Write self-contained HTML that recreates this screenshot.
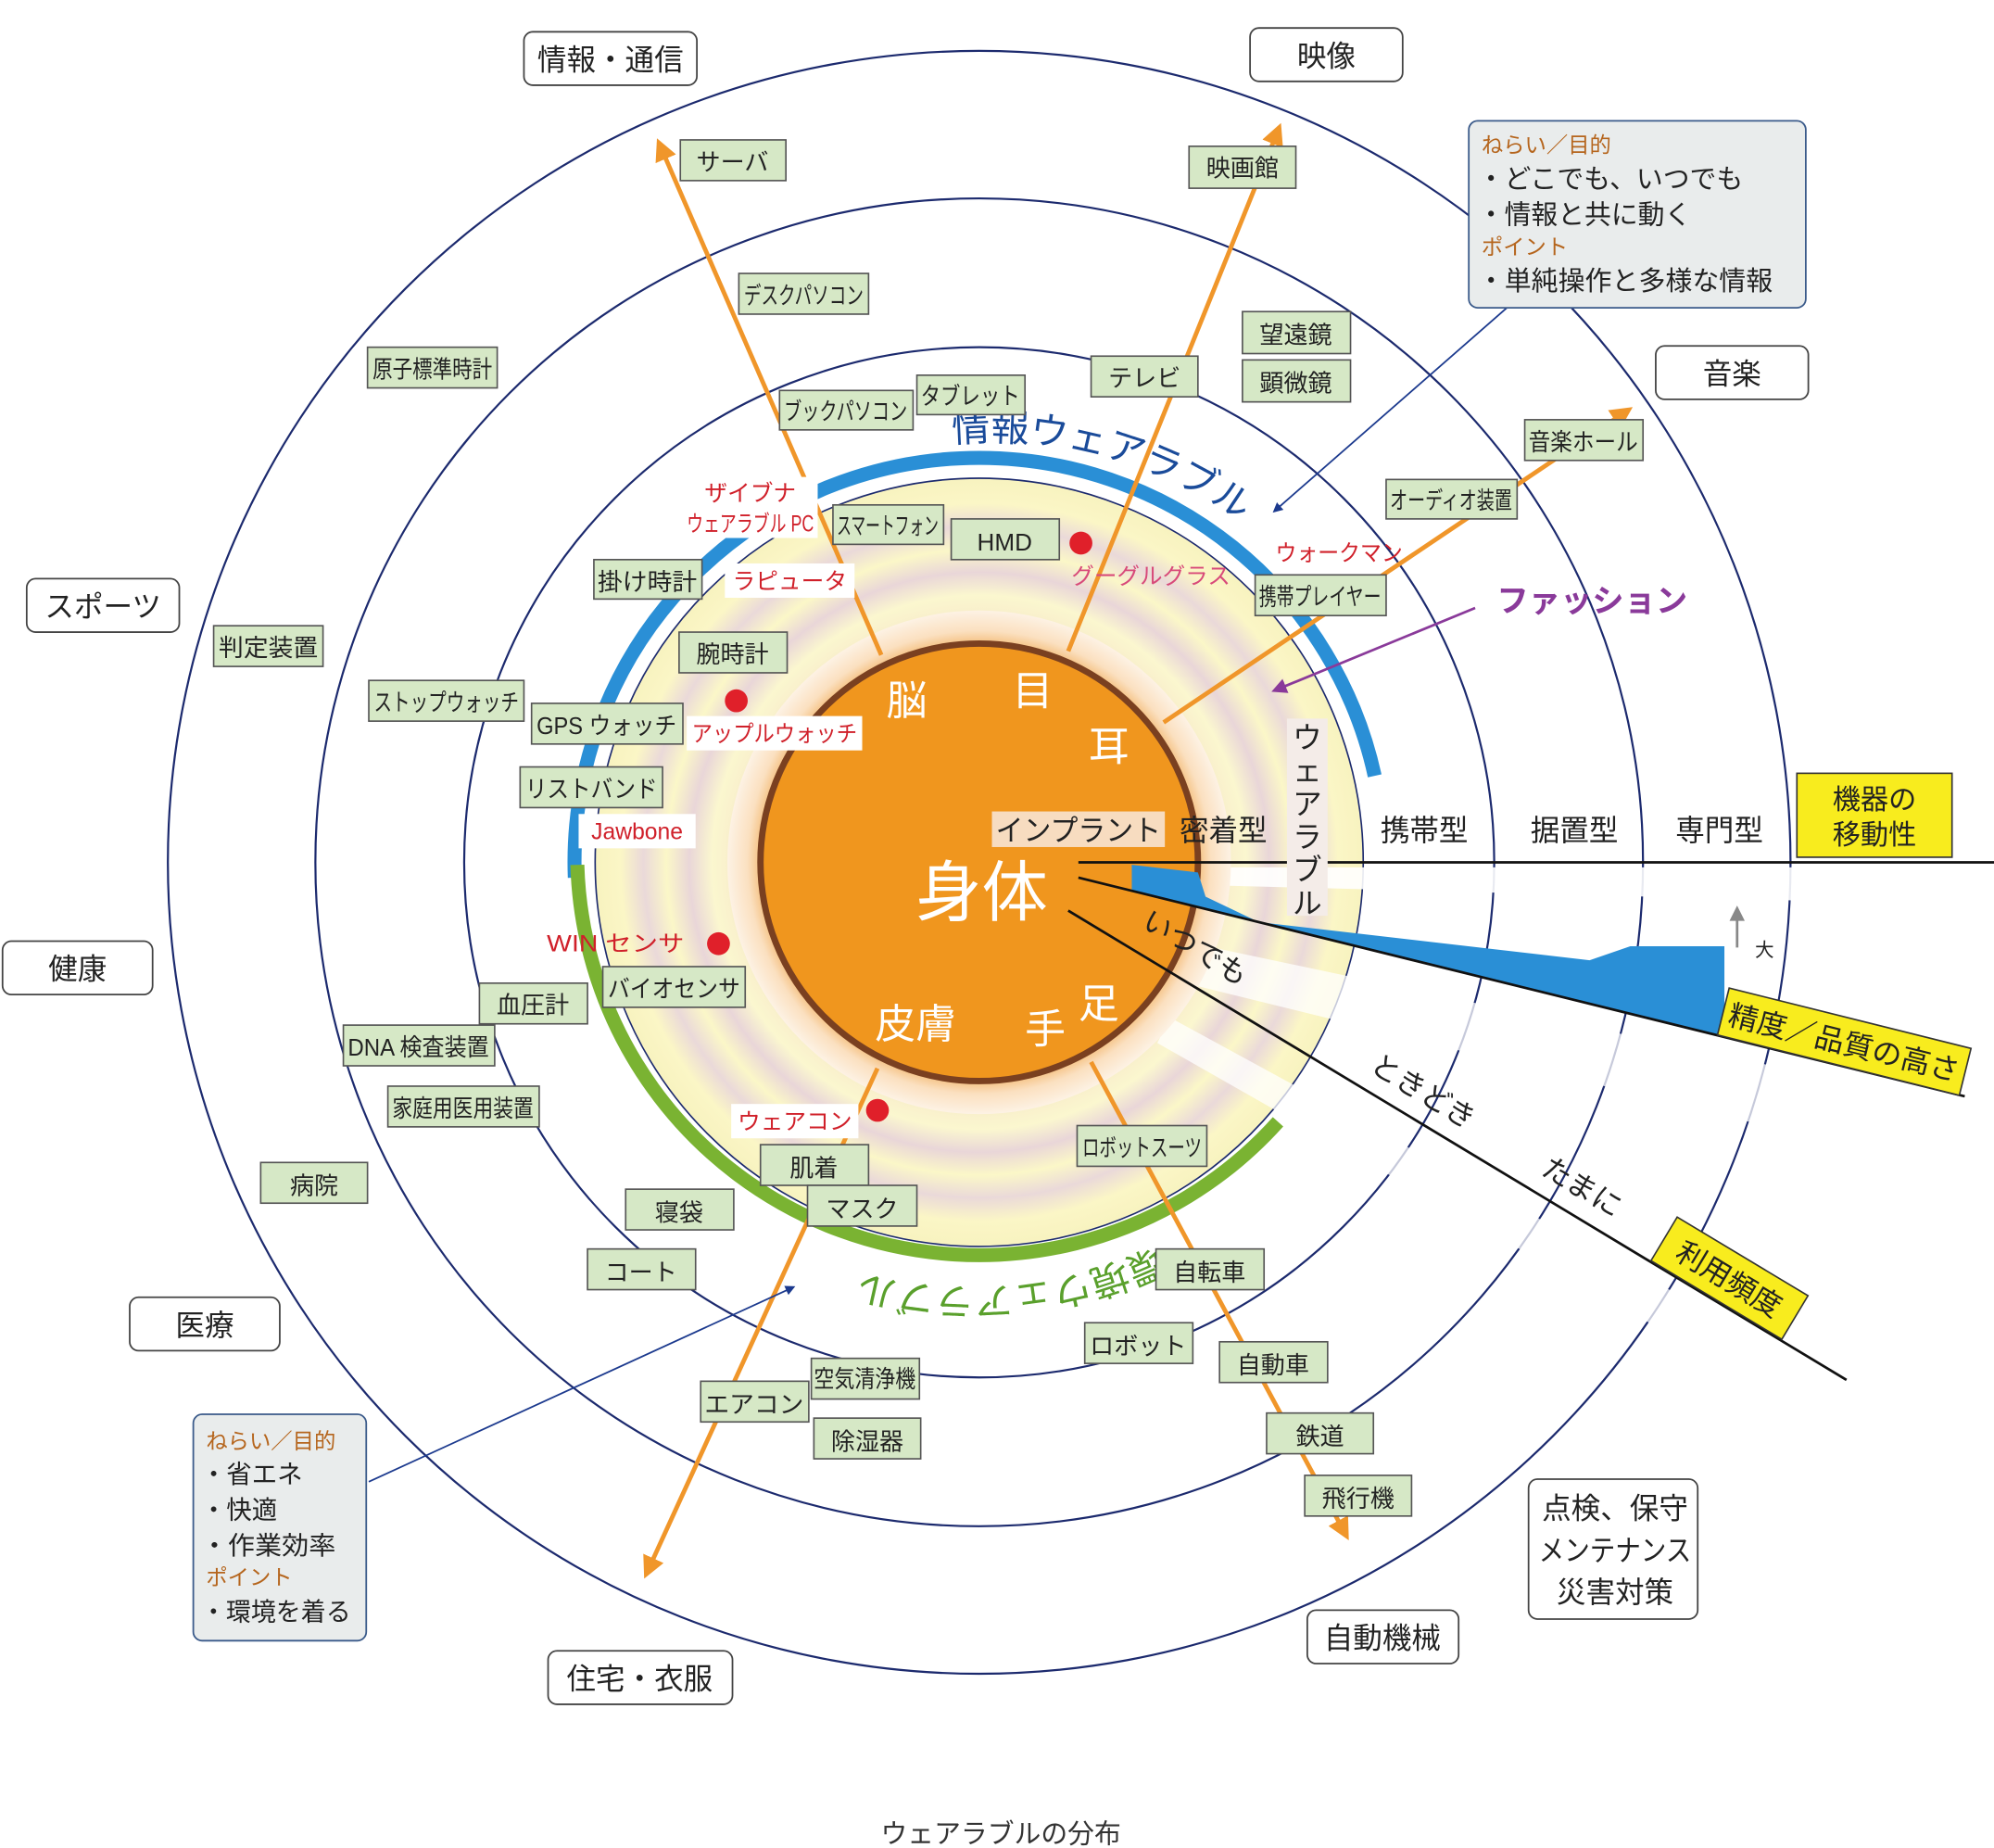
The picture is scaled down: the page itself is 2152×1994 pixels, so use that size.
<!DOCTYPE html>
<html><head><meta charset="utf-8">
<style>
html,body{margin:0;padding:0;background:#fff;}
svg{display:block;}
text{font-family:"Liberation Sans","Noto Sans CJK JP",sans-serif;}
.g{fill:#d6e8c6;stroke:#555;stroke-width:1.2;}
.gt{font-size:19px;fill:#222;text-anchor:middle;}
.w{fill:#fff;stroke:#444;stroke-width:1.3;}
.wt{font-size:23px;fill:#222;text-anchor:middle;}
.r{font-size:18px;fill:#d0202a;text-anchor:middle;}
.ring{fill:none;stroke:#1c2a6e;stroke-width:1.6;}
.oa{stroke:#f0962a;stroke-width:3.5;fill:none;}
</style></head><body>
<svg width="2152" height="1994" viewBox="0 0 1568 1453" preserveAspectRatio="none" xmlns="http://www.w3.org/2000/svg">
<defs>
<radialGradient id="yel" cx="770" cy="678" r="300" gradientUnits="userSpaceOnUse">
<stop offset="0.6" stop-color="#f6e6c8"/>
<stop offset="0.7" stop-color="#fbf7cf"/>
<stop offset="0.76" stop-color="#e9d6d8"/>
<stop offset="0.82" stop-color="#fbf7c8"/>
<stop offset="0.88" stop-color="#ead9d9"/>
<stop offset="0.94" stop-color="#fbf6c6"/>
<stop offset="1" stop-color="#f8f3c0"/>
</radialGradient>
<radialGradient id="glow" cx="770" cy="678" r="198" gradientUnits="userSpaceOnUse">
<stop offset="0.85" stop-color="#f2b56a"/>
<stop offset="0.92" stop-color="#fbe0c0"/>
<stop offset="1" stop-color="#fdf2e4"/>
</radialGradient>
<marker id="ah" viewBox="0 0 10 10" refX="8" refY="5" markerWidth="5" markerHeight="5" orient="auto"><path d="M0,0L10,5L0,10z" fill="#f0962a"/></marker>
<marker id="an" viewBox="0 0 10 10" refX="8" refY="5" markerWidth="6" markerHeight="6" orient="auto"><path d="M0,0L10,5L0,10z" fill="#1c3a8e"/></marker>
<marker id="ap" viewBox="0 0 10 10" refX="8" refY="5" markerWidth="6" markerHeight="6" orient="auto"><path d="M0,0L10,5L0,10z" fill="#8a3a9a"/></marker>
<path id="topArc" d="M 560,430 A 332 332 0 0 1 1030,460"/>
<path id="botArc" d="M 920,975 A 338 338 0 0 1 610,975"/>
</defs>

<circle cx="770" cy="678" r="638" class="ring"/>
<circle cx="770" cy="678" r="522" class="ring"/>
<circle cx="770" cy="678" r="405" class="ring"/>
<circle cx="770" cy="678" r="302" fill="url(#yel)" stroke="#1c2a6e" stroke-width="1.2"/>

<polygon points="950,682 1568,682 1568,712 950,696" fill="#fff" opacity="0.9"/>
<polygon points="930,740 1545,870 1530,920 920,770" fill="#fff" opacity="0.75"/>
<polygon points="920,800 1452,1090 1420,1110 910,820" fill="#fff" opacity="0.75"/>

<path d="M 452,690 A 318 318 0 0 1 770,360 A 318 318 0 0 1 1081,610" fill="none" stroke="#2a8fd6" stroke-width="11"/>
<path d="M 454,680 A 316 316 0 0 0 1005,882" fill="none" stroke="#7ab332" stroke-width="11"/>

<circle cx="770" cy="678" r="198" fill="url(#glow)"/>
<circle cx="770" cy="678" r="172" fill="#f0961e" stroke="#7a4020" stroke-width="5"/>

<text font-size="30" fill="#1a4b9a"><textPath href="#topArc" startOffset="40%">情報ウェアラブル</textPath></text>
<text font-size="30" fill="#5aa02c"><textPath href="#botArc" startOffset="3%">環境ウェアラブル</textPath></text>

<line x1="848" y1="678" x2="1568" y2="678" stroke="#111" stroke-width="2"/>
<polygon points="890,680 942,686 948,705 990,725 1250,755 1282,744 1356,744 1356,815 890,700" fill="#2a8fd6"/>
<line x1="848" y1="690" x2="1545" y2="862" stroke="#111" stroke-width="2"/>
<line x1="840" y1="716" x2="1452" y2="1085" stroke="#111" stroke-width="2"/>
<line x1="1366" y1="745" x2="1366" y2="722" stroke="#888" stroke-width="2"/>
<polygon points="1360,724 1366,712 1372,724" fill="#888"/>
<text x="1380" y="752" font-size="15" fill="#222">大</text>

<line x1="693" y1="515" x2="518" y2="112" class="oa" marker-end="url(#ah)"/>
<line x1="840" y1="512" x2="1006" y2="100" class="oa" marker-end="url(#ah)"/>
<line x1="915" y1="568" x2="1281" y2="322" class="oa" marker-end="url(#ah)"/>
<line x1="690" y1="840" x2="508" y2="1238" class="oa" marker-end="url(#ah)"/>
<line x1="858" y1="835" x2="1059" y2="1208" class="oa" marker-end="url(#ah)"/>

<line x1="1185" y1="242" x2="1002" y2="402" stroke="#1c3a8e" stroke-width="1.3" marker-end="url(#an)"/>
<line x1="290" y1="1165" x2="624" y2="1012" stroke="#1c3a8e" stroke-width="1.3" marker-end="url(#an)"/>
<line x1="1160" y1="478" x2="1002" y2="543" stroke="#8a3a9a" stroke-width="2" marker-end="url(#ap)"/>

<rect x="780" y="638" width="136" height="28" fill="#f7dcc0"/>
<text x="848" y="661" font-size="23" text-anchor="middle" fill="#222" textLength="130" lengthAdjust="spacingAndGlyphs">インプラント</text>
<text x="962" y="661" font-size="23" text-anchor="middle" fill="#222">密着型</text>
<rect x="1012" y="565" width="32" height="155" fill="#f4ece8"/>
<text font-size="23" fill="#222" text-anchor="middle"><tspan x="1028" y="588">ウ</tspan><tspan x="1028" y="614">ェ</tspan><tspan x="1028" y="640">ア</tspan><tspan x="1028" y="666">ラ</tspan><tspan x="1028" y="692">ブ</tspan><tspan x="1028" y="718">ル</tspan></text>
<text x="1120" y="661" font-size="23" text-anchor="middle" fill="#222">携帯型</text>
<text x="1238" y="661" font-size="23" text-anchor="middle" fill="#222">据置型</text>
<text x="1352" y="661" font-size="23" text-anchor="middle" fill="#222">専門型</text>

<g fill="#fff" text-anchor="middle">
<text x="713" y="562" font-size="32">脳</text>
<text x="812" y="554" font-size="32">目</text>
<text x="872" y="598" font-size="32">耳</text>
<text x="772" y="720" font-size="52">身体</text>
<text x="720" y="816" font-size="32">皮膚</text>
<text x="822" y="820" font-size="32">手</text>
<text x="864" y="800" font-size="32">足</text>
</g>

<text x="936" y="752" font-size="23" fill="#222" text-anchor="middle" transform="rotate(31 936 752)">いつでも</text>
<text x="1115" y="865" font-size="23" fill="#222" text-anchor="middle" transform="rotate(31 1115 865)">ときどき</text>
<text x="1240" y="940" font-size="23" fill="#222" text-anchor="middle" transform="rotate(31 1240 940)">たまに</text>

<rect x="1413" y="608" width="122" height="66" fill="#f8ec1e" stroke="#333" stroke-width="1.2"/>
<text x="1474" y="636" font-size="22" text-anchor="middle" fill="#222">機器の</text>
<text x="1474" y="664" font-size="22" text-anchor="middle" fill="#222">移動性</text>
<g transform="rotate(14 1450 820)"><rect x="1352" y="800" width="196" height="38" fill="#f8ec1e" stroke="#333" stroke-width="1.2"/><text x="1450" y="828" font-size="23" text-anchor="middle" fill="#222" textLength="186" lengthAdjust="spacingAndGlyphs">精度／品質の高さ</text></g>
<g transform="rotate(31 1360 1005)"><rect x="1300" y="985" width="120" height="40" fill="#f8ec1e" stroke="#333" stroke-width="1.2"/><text x="1360" y="1014" font-size="23" text-anchor="middle" fill="#222">利用頻度</text></g>

<g>
<rect class="g" x="535" y="110" width="83" height="32"/><text class="gt" x="576" y="134">サーバ</text>
<rect class="g" x="581" y="215" width="102" height="32"/><text class="gt" x="632" y="239" textLength="94" lengthAdjust="spacingAndGlyphs">デスクパソコン</text>
<rect class="g" x="289" y="273" width="102" height="32"/><text class="gt" x="340" y="297" textLength="94" lengthAdjust="spacingAndGlyphs">原子標準時計</text>
<rect class="g" x="613" y="307" width="105" height="31"/><text class="gt" x="665" y="330" textLength="97" lengthAdjust="spacingAndGlyphs">ブックパソコン</text>
<rect class="g" x="721" y="295" width="85" height="31"/><text class="gt" x="763" y="318" textLength="78" lengthAdjust="spacingAndGlyphs">タブレット</text>
<rect class="g" x="858" y="280" width="84" height="32"/><text class="gt" x="900" y="304" font-size="22">テレビ</text>
<rect class="g" x="935" y="115" width="84" height="33"/><text class="gt" x="977" y="139">映画館</text>
<rect class="g" x="977" y="245" width="85" height="33"/><text class="gt" x="1019" y="270" font-size="21">望遠鏡</text>
<rect class="g" x="977" y="283" width="85" height="33"/><text class="gt" x="1019" y="308" font-size="21">顕微鏡</text>
<rect class="g" x="1199" y="330" width="93" height="32"/><text class="gt" x="1245" y="354" textLength="86" lengthAdjust="spacingAndGlyphs">音楽ホール</text>
<rect class="g" x="1090" y="377" width="103" height="31"/><text class="gt" x="1141" y="400" textLength="96" lengthAdjust="spacingAndGlyphs">オーディオ装置</text>
<rect class="g" x="987" y="452" width="103" height="32"/><text class="gt" x="1038" y="476" textLength="96" lengthAdjust="spacingAndGlyphs">携帯プレイヤー</text>
<rect class="g" x="655" y="397" width="87" height="31"/><text class="gt" x="698" y="420" font-size="17" textLength="80" lengthAdjust="spacingAndGlyphs">スマートフォン</text>
<rect class="g" x="748" y="408" width="85" height="32"/><text class="gt" x="790" y="433" font-size="22">HMD</text>
<rect class="g" x="467" y="440" width="85" height="31"/><text class="gt" x="509" y="464" font-size="20" textLength="78" lengthAdjust="spacingAndGlyphs">掛け時計</text>
<rect class="g" x="534" y="497" width="85" height="32"/><text class="gt" x="576" y="521" font-size="20">腕時計</text>
<rect class="g" x="168" y="492" width="86" height="32"/><text class="gt" x="211" y="516" textLength="78" lengthAdjust="spacingAndGlyphs">判定装置</text>
<rect class="g" x="290" y="535" width="122" height="32"/><text class="gt" x="351" y="559" textLength="114" lengthAdjust="spacingAndGlyphs">ストップウォッチ</text>
<rect class="g" x="418" y="553" width="119" height="32"/><text class="gt" x="477" y="577" font-size="20" textLength="110" lengthAdjust="spacingAndGlyphs">GPS ウォッチ</text>
<rect class="g" x="409" y="603" width="112" height="32"/><text class="gt" x="465" y="627" font-size="20" textLength="104" lengthAdjust="spacingAndGlyphs">リストバンド</text>
<rect class="g" x="377" y="773" width="85" height="32"/><text class="gt" x="419" y="797" font-size="21">血圧計</text>
<rect class="g" x="474" y="760" width="112" height="32"/><text class="gt" x="530" y="784" font-size="20" textLength="104" lengthAdjust="spacingAndGlyphs">バイオセンサ</text>
<rect class="g" x="270" y="806" width="119" height="32"/><text class="gt" x="329" y="830" textLength="111" lengthAdjust="spacingAndGlyphs">DNA 検査装置</text>
<rect class="g" x="305" y="854" width="119" height="32"/><text class="gt" x="364" y="878" textLength="111" lengthAdjust="spacingAndGlyphs">家庭用医用装置</text>
<rect class="g" x="598" y="900" width="85" height="32"/><text class="gt" x="640" y="925" font-size="21">肌着</text>
<rect class="g" x="635" y="932" width="86" height="32"/><text class="gt" x="678" y="957" font-size="21">マスク</text>
<rect class="g" x="492" y="935" width="85" height="32"/><text class="gt" x="534" y="960" font-size="21">寝袋</text>
<rect class="g" x="462" y="982" width="85" height="32"/><text class="gt" x="504" y="1007" font-size="21">コート</text>
<rect class="g" x="205" y="914" width="84" height="32"/><text class="gt" x="247" y="939" font-size="21">病院</text>
<rect class="g" x="847" y="885" width="102" height="32"/><text class="gt" x="898" y="909" textLength="94" lengthAdjust="spacingAndGlyphs">ロボットスーツ</text>
<rect class="g" x="909" y="982" width="85" height="32"/><text class="gt" x="951" y="1007" font-size="21">自転車</text>
<rect class="g" x="853" y="1040" width="85" height="32"/><text class="gt" x="895" y="1065" font-size="21" textLength="76" lengthAdjust="spacingAndGlyphs">ロボット</text>
<rect class="g" x="959" y="1055" width="85" height="32"/><text class="gt" x="1001" y="1080" font-size="21">自動車</text>
<rect class="g" x="638" y="1068" width="85" height="32"/><text class="gt" x="680" y="1091" font-size="18" textLength="80" lengthAdjust="spacingAndGlyphs">空気清浄機</text>
<rect class="g" x="551" y="1086" width="85" height="32"/><text class="gt" x="593" y="1111" font-size="21" textLength="78" lengthAdjust="spacingAndGlyphs">エアコン</text>
<rect class="g" x="640" y="1115" width="84" height="32"/><text class="gt" x="682" y="1140" font-size="21">除湿器</text>
<rect class="g" x="996" y="1111" width="84" height="32"/><text class="gt" x="1038" y="1136" font-size="21">鉄道</text>
<rect class="g" x="1026" y="1160" width="84" height="32"/><text class="gt" x="1068" y="1185" font-size="21">飛行機</text>
</g>

<rect class="w" x="412" y="25" width="136" height="42" rx="7"/><text class="wt" x="480" y="55">情報・通信</text>
<rect class="w" x="983" y="22" width="120" height="42" rx="7"/><text class="wt" x="1043" y="52">映像</text>
<rect class="w" x="1302" y="272" width="120" height="42" rx="7"/><text class="wt" x="1362" y="302">音楽</text>
<rect class="w" x="21" y="455" width="120" height="42" rx="7"/><text class="wt" x="81" y="485">スポーツ</text>
<rect class="w" x="2" y="740" width="118" height="42" rx="7"/><text class="wt" x="61" y="770">健康</text>
<rect class="w" x="102" y="1020" width="118" height="42" rx="7"/><text class="wt" x="161" y="1050">医療</text>
<rect class="w" x="431" y="1298" width="145" height="42" rx="7"/><text class="wt" x="503" y="1328">住宅・衣服</text>
<rect class="w" x="1028" y="1266" width="119" height="42" rx="7"/><text class="wt" x="1087" y="1296">自動機械</text>
<rect class="w" x="1202" y="1163" width="133" height="110" rx="7"/>
<text class="wt" x="1270" y="1194">点検、保守</text><text class="wt" x="1270" y="1227" textLength="120" lengthAdjust="spacingAndGlyphs">メンテナンス</text><text class="wt" x="1270" y="1260">災害対策</text>

<rect x="1155" y="95" width="265" height="147" rx="7" fill="#e9ecec" stroke="#3a5a8a" stroke-width="1.3"/>
<text x="1165" y="120" font-size="17" fill="#b5651d">ねらい／目的</text>
<text x="1162" y="148" font-size="21" fill="#222">・どこでも、いつでも</text>
<text x="1162" y="176" font-size="21" fill="#222">・情報と共に動く</text>
<text x="1165" y="200" font-size="17" fill="#b5651d">ポイント</text>
<text x="1162" y="228" font-size="21" fill="#222" textLength="232" lengthAdjust="spacingAndGlyphs">・単純操作と多様な情報</text>
<rect x="152" y="1112" width="136" height="178" rx="7" fill="#e9ecec" stroke="#3a5a8a" stroke-width="1.3"/>
<text x="162" y="1139" font-size="17" fill="#b5651d">ねらい／目的</text>
<text x="158" y="1166" font-size="20" fill="#222">・省エネ</text>
<text x="158" y="1194" font-size="20" fill="#222">・快適</text>
<text x="158" y="1222" font-size="20" fill="#222" textLength="106" lengthAdjust="spacingAndGlyphs">・作業効率</text>
<text x="162" y="1246" font-size="17" fill="#b5651d">ポイント</text>
<text x="158" y="1274" font-size="20" fill="#222" textLength="118" lengthAdjust="spacingAndGlyphs">・環境を着る</text>

<rect x="538" y="375" width="105" height="48" fill="#fff"/>
<text class="r" x="590" y="394">ザイブナ</text>
<text class="r" x="590" y="418" font-size="17" textLength="100" lengthAdjust="spacingAndGlyphs">ウェアラブル PC</text>
<rect x="570" y="443" width="102" height="27" fill="#fff"/><text class="r" x="621" y="463" textLength="90" lengthAdjust="spacingAndGlyphs">ラピュータ</text>
<text class="r" x="905" y="459" style="fill:#d84a7a" textLength="125" lengthAdjust="spacingAndGlyphs">グーグルグラス</text>
<text class="r" x="1053" y="441" textLength="100" lengthAdjust="spacingAndGlyphs">ウォークマン</text>
<rect x="540" y="563" width="138" height="27" fill="#fff"/><text class="r" x="609" y="583" textLength="130" lengthAdjust="spacingAndGlyphs">アップルウォッチ</text>
<rect x="455" y="640" width="92" height="27" fill="#fff"/><text class="r" x="501" y="660">Jawbone</text>
<text class="r" x="484" y="748" font-size="19" textLength="108" lengthAdjust="spacingAndGlyphs">WIN センサ</text>
<rect x="575" y="868" width="100" height="27" fill="#fff"/><text class="r" x="625" y="888" textLength="90" lengthAdjust="spacingAndGlyphs">ウェアコン</text>
<g fill="#e0202a"><circle cx="850" cy="427" r="9"/><circle cx="579" cy="551" r="9"/><circle cx="565" cy="742" r="9"/><circle cx="690" cy="873" r="9"/></g>

<text x="1252" y="481" font-size="25" font-weight="bold" fill="#8a3a9a" text-anchor="middle">ファッション</text>
<text x="787" y="1449" font-size="21" fill="#333" text-anchor="middle">ウェアラブルの分布</text>
</svg>
</body></html>
